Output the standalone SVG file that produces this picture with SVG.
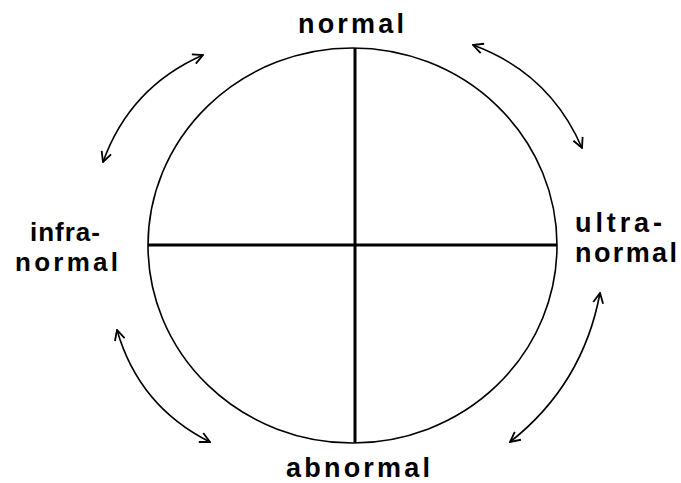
<svg xmlns="http://www.w3.org/2000/svg" width="681" height="483" viewBox="0 0 681 483">
<style>
.lbl{font-family:"Liberation Sans",Arial,sans-serif;font-weight:bold;font-size:27px;fill:#000}
.sm{font-size:26px}
.arc{fill:none;stroke:#000;stroke-width:1.6;marker-start:url(#ah);marker-end:url(#ah)}
</style>
<defs>
<marker id="ah" viewBox="0 0 12 12" refX="11" refY="6" markerWidth="12" markerHeight="12" markerUnits="userSpaceOnUse" orient="auto-start-reverse">
<path d="M1,1 L11,6 L1,11" fill="none" stroke="#000" stroke-width="1.8"/>
</marker>
</defs>
<rect width="681" height="483" fill="#fff"/>
<g id="circle">
<ellipse cx="352.5" cy="245.5" rx="204.5" ry="197.5" fill="none" stroke="#000" stroke-width="1.6"/>
<line x1="355" y1="48" x2="355" y2="443" stroke="#000" stroke-width="3"/>
<line x1="148" y1="245" x2="557" y2="245" stroke="#000" stroke-width="3"/>
</g>
<g id="normal"><text class="lbl" x="298" y="33" textLength="106" lengthAdjust="spacing">normal</text></g>
<g id="abnormal"><text class="lbl" x="286" y="477" textLength="144" lengthAdjust="spacing">abnormal</text></g>
<g id="infranormal">
<text class="lbl sm" x="30" y="241" textLength="70" lengthAdjust="spacing">infra-</text>
<text class="lbl sm" x="15" y="271" textLength="103" lengthAdjust="spacing">normal</text>
</g>
<g id="ultranormal">
<text class="lbl" x="575" y="232" textLength="87" lengthAdjust="spacing">ultra-</text>
<text class="lbl" x="575" y="262" textLength="102" lengthAdjust="spacing">normal</text>
</g>
<g id="connectors">
<path class="arc" d="M103,162 Q130,87 203,55"/>
<path class="arc" d="M473,45 Q549.5,73 582,148"/>
<path class="arc" d="M117,330 Q139,406.5 210,442"/>
<path class="arc" d="M600,293 Q583,384.6 510,442"/>
</g>
</svg>
